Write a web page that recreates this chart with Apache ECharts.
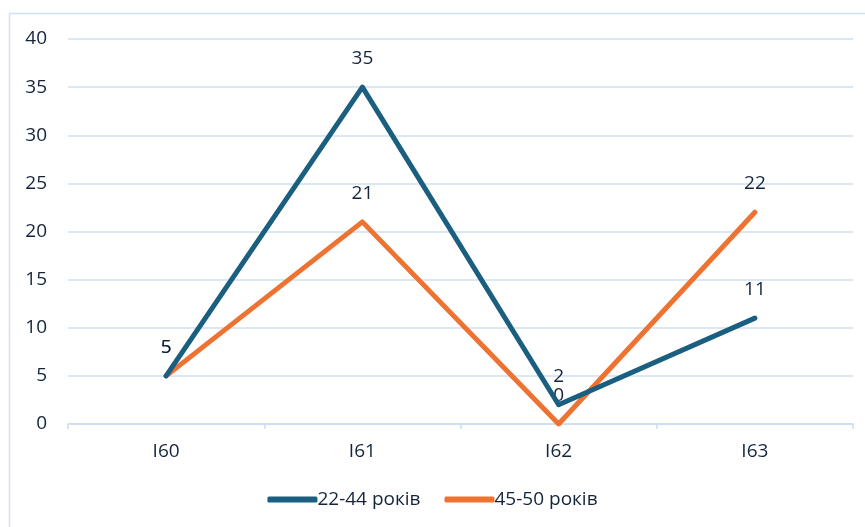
<!DOCTYPE html>
<html><head><meta charset="utf-8">
<script src="https://cdn.jsdelivr.net/npm/echarts@6/dist/echarts.min.js"></script>
<style>html,body{margin:0;padding:0;background:#fff}#c{width:865px;height:527px}</style>
</head><body><div id="c"></div>
<script>
const categories = ['I60', 'I61', 'I62', 'I63'];
const seriesNames = ['22-44 років', '45-50 років'];
const values2244 = [5, 35, 2, 11];
const values4550 = [5, 21, 0, 22];
const yTicks = { min: 0, max: 40, interval: 5 };

const chart = echarts.init(document.getElementById('c'));
const font = '"Open Sans", "Noto Sans", sans-serif';
const textColor = '#14243b';
const lineColors = ['#1a5e80', '#ee7231'];
function mk(name, data, color) {
  return {
    name, type: 'line', data,
    symbol: 'circle', symbolSize: 4, showSymbol: true, smooth: false,
    lineStyle: { width: 5, color, cap: 'round', join: 'round' },
    itemStyle: { color },
    label: { show: true, position: 'top', distance: 17, color: textColor, fontSize: 19, fontFamily: font },
    z: name === seriesNames[0] ? 3 : 2
  };
}
chart.setOption({
  animation: false,
  textStyle: { fontFamily: font },
  graphic: [{ type: 'rect', shape: { x: 9.5, y: 13.5, width: 900, height: 600 }, style: { fill: 'none', stroke: '#cfe0f1', lineWidth: 1.5 }, silent: true }],
  grid: { left: 68, right: 12, top: 39, bottom: 103, containLabel: false },
  legend: {
    bottom: 13, left: 'center', itemWidth: 50, itemHeight: 6, itemGap: 24,
    icon: 'roundRect',
    textStyle: { color: textColor, fontSize: 19, fontFamily: font, padding: [0, 0, 0, -5] },
    data: seriesNames
  },
  xAxis: {
    type: 'category', data: categories, boundaryGap: true,
    axisLine: { lineStyle: { color: '#c9dcef', width: 1.5 } },
    axisTick: { show: true, length: 5, lineStyle: { color: '#c9dcef', width: 1.5 } },
    axisLabel: { color: textColor, fontSize: 19, margin: 18, fontFamily: font }
  },
  yAxis: {
    type: 'value', min: yTicks.min, max: yTicks.max, interval: yTicks.interval,
    axisLine: { show: false }, axisTick: { show: false },
    splitLine: { lineStyle: { color: '#cfe0f1', width: 1.5 } },
    axisLabel: { color: textColor, fontSize: 19, margin: 21, fontFamily: font }
  },
  series: [mk(seriesNames[1], values4550, lineColors[1]), mk(seriesNames[0], values2244, lineColors[0])]
});
</script></body></html>
